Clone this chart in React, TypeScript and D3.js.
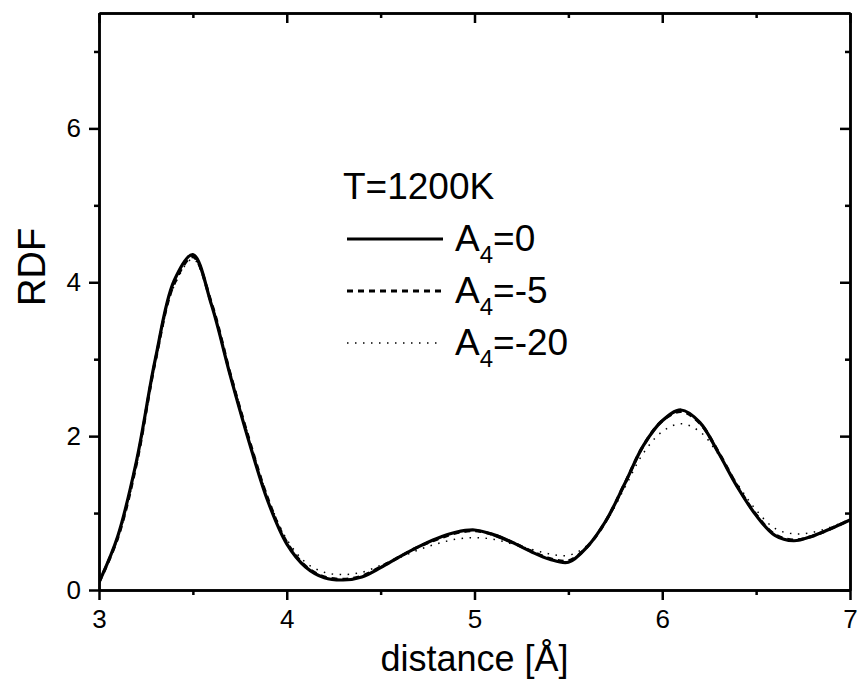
import { useEffect, useRef } from "react";
import * as d3 from "d3";

// distance grid [Å] and RDF curves
const distance = [
  3.0, 3.1, 3.2, 3.3, 3.4, 3.5, 3.6, 3.7, 3.8, 3.9, 4.0, 4.1, 4.2, 4.3, 4.4,
  4.5, 4.6, 4.7, 4.8, 4.9, 5.0, 5.1, 5.2, 5.3, 5.4, 5.5, 5.6, 5.7, 5.8, 5.9,
  6.0, 6.1, 6.2, 6.3, 6.4, 6.5, 6.6, 6.7, 6.8, 6.9, 7.0,
];
const rdfA0 = [
  0.1, 0.7, 1.68, 3.0, 4.02, 4.36, 3.7, 2.78, 1.92, 1.15, 0.6, 0.3, 0.16,
  0.13, 0.17, 0.29, 0.43, 0.56, 0.67, 0.75, 0.78, 0.72, 0.62, 0.5, 0.4, 0.36,
  0.56, 0.9, 1.38, 1.88, 2.2, 2.34, 2.18, 1.78, 1.34, 0.97, 0.71, 0.64, 0.7,
  0.8, 0.91,
];
const rdfA5 = [
  0.1, 0.68, 1.65, 2.98, 3.98, 4.33, 3.72, 2.8, 1.95, 1.18, 0.62, 0.31, 0.17,
  0.14, 0.18, 0.3, 0.43, 0.56, 0.66, 0.74, 0.77, 0.72, 0.62, 0.51, 0.41, 0.38,
  0.56, 0.9, 1.38, 1.88, 2.2, 2.32, 2.17, 1.79, 1.35, 0.98, 0.72, 0.65, 0.7,
  0.8, 0.91,
];
const rdfA20 = [
  0.1, 0.67, 1.63, 2.95, 3.95, 4.3, 3.72, 2.82, 1.97, 1.2, 0.66, 0.36, 0.23,
  0.2, 0.23, 0.32, 0.42, 0.52, 0.6, 0.66, 0.68, 0.66, 0.6, 0.53, 0.47, 0.45,
  0.58, 0.88, 1.33, 1.78, 2.06, 2.16, 2.06, 1.76, 1.38, 1.04, 0.8, 0.73, 0.75,
  0.82, 0.92,
];

const xMajor = [3, 4, 5, 6, 7];
const xMinor = [3.5, 4.5, 5.5, 6.5];
const yMajor = [0, 2, 4, 6];
const yMinor = [1, 3, 5, 7];

const legendTitle = "T=1200K";
const legendValues = ["0", "-5", "-20"];
const legendDash = ["none", "6,5", "1.5,6.5"];
const legendWidth = [3.2, 3, 1.5];

const font = "'Liberation Sans', Arial, Helvetica, sans-serif";

export default function App() {
  const width = 859;
  const height = 681;
  const margin = { left: 99, right: 9, top: 13, bottom: 91 };
  const ref = useRef<SVGGElement>(null);

  const x = d3
    .scaleLinear()
    .domain([3, 7])
    .range([margin.left, width - margin.right]);
  const y = d3
    .scaleLinear()
    .domain([0, 7.5])
    .range([height - margin.bottom, margin.top]);

  const line = d3
    .line<number>()
    .x((_, i) => x(distance[i]))
    .y((d) => y(d))
    .curve(d3.curveCatmullRom);

  const series = [rdfA0, rdfA5, rdfA20];

  useEffect(() => {
    const g = d3.select(ref.current);
    g.selectAll("*").remove();

    const b = height - margin.bottom;
    const r = width - margin.right;

    const addAxis = (axis: any, tx: number, ty: number, labels: boolean) => {
      const a = g
        .append("g")
        .attr("transform", `translate(${tx},${ty})`)
        .call(axis);
      a.select(".domain").attr("stroke-width", 2.5);
      a.selectAll(".tick line").attr("stroke-width", 2.5);
      a.selectAll(".tick text")
        .attr("font-family", font)
        .attr("font-size", 26)
        .attr("fill", "#000");
      if (!labels) a.selectAll(".tick text").remove();
      return a;
    };

    // bottom
    addAxis(
      d3.axisBottom(x).tickValues(xMajor).tickSize(10).tickSizeOuter(0).tickPadding(10).tickFormat(d3.format("d")),
      0, b, true
    );
    addAxis(d3.axisBottom(x).tickValues(xMinor).tickSize(5).tickSizeOuter(0), 0, b, false);
    // top
    addAxis(d3.axisTop(x).tickValues(xMajor).tickSize(-10).tickSizeOuter(0), 0, margin.top, false);
    addAxis(d3.axisTop(x).tickValues(xMinor).tickSize(-5).tickSizeOuter(0), 0, margin.top, false);
    // left
    addAxis(
      d3.axisLeft(y).tickValues(yMajor).tickSize(10).tickSizeOuter(0).tickPadding(8).tickFormat(d3.format("d")),
      margin.left, 0, true
    );
    addAxis(d3.axisLeft(y).tickValues(yMinor).tickSize(5).tickSizeOuter(0), margin.left, 0, false);
    // right
    addAxis(d3.axisRight(y).tickValues(yMajor).tickSize(-10).tickSizeOuter(0), r, 0, false);
    addAxis(d3.axisRight(y).tickValues(yMinor).tickSize(-5).tickSizeOuter(0), r, 0, false);
  }, []);

  const lx = 347;
  const ly = 199;
  const rowGap = 52;

  return (
    <svg
      width={width}
      height={height}
      style={{ position: "absolute", left: 0, top: 0, background: "#fff" }}
    >
      <rect width={width} height={height} fill="#fff" />
      <defs>
        <clipPath id="plot">
          <rect
            x={margin.left}
            y={margin.top}
            width={width - margin.left - margin.right}
            height={height - margin.top - margin.bottom}
          />
        </clipPath>
      </defs>
      <g clipPath="url(#plot)" fill="none" stroke="#000">
        {series.map((s, i) => (
          <path
            key={i}
            d={line(s) ?? ""}
            strokeWidth={legendWidth[i]}
            strokeDasharray={legendDash[i]}
            strokeLinejoin="round"
          />
        ))}
      </g>
      <g ref={ref} />

      <text
        x={x(5)}
        y={671}
        textAnchor="middle"
        fontFamily={font}
        fontSize={36}
      >
        distance [Å]
      </text>
      <text
        transform={`translate(45,${y(4.2)}) rotate(-90)`}
        textAnchor="middle"
        fontFamily={font}
        fontSize={38}
      >
        RDF
      </text>

      <text x={lx - 4} y={ly} fontFamily={font} fontSize={37}>
        {legendTitle}
      </text>
      {legendValues.map((v, i) => {
        const yy = ly + rowGap * (i + 1);
        return (
          <g key={v}>
            <line
              x1={lx}
              x2={lx + 96}
              y1={yy - 12}
              y2={yy - 12}
              stroke="#000"
              strokeWidth={legendWidth[i]}
              strokeDasharray={legendDash[i]}
            />
            <text x={lx + 108} y={yy} fontFamily={font} fontSize={37}>
              A
              <tspan fontSize={24} dy={12}>
                4
              </tspan>
              <tspan dy={-12}>={v}</tspan>
            </text>
          </g>
        );
      })}
    </svg>
  );
}
